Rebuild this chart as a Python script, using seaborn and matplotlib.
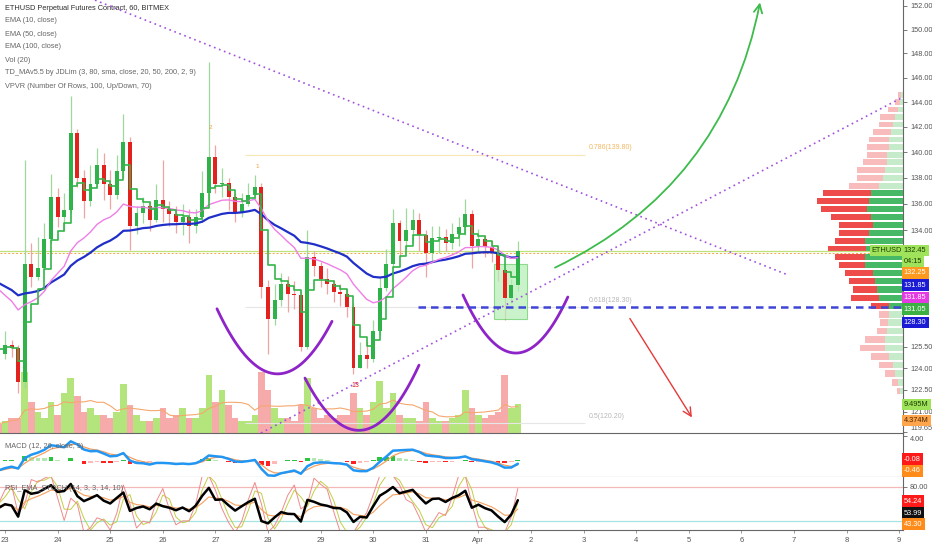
import numpy as np
import pandas as pd
import matplotlib
matplotlib.use("Agg")
import matplotlib.pyplot as plt
import matplotlib.dates as mdates
from matplotlib.patches import Rectangle
from matplotlib.ticker import FixedLocator, NullLocator, FuncFormatter
import seaborn as sns

sns.set_theme(style="white")
plt.rcParams["font.family"] = ["Liberation Sans", "DejaVu Sans"]

# --------------------------------------------------------------
# data (3h candles, ETHUSD BitMEX)
# --------------------------------------------------------------
first_open = 125.8
close = [125.0, 125.6, 125.4, 123.0, 131.5, 130.5, 131.2, 133.3, 136.5, 135.0,
         135.5, 141.5, 138.0, 136.2, 137.5, 139.0, 137.5, 136.7, 138.5, 140.8,
         134.3, 135.3, 135.8, 134.8, 136.3, 135.6, 135.2, 134.6, 135.0, 134.3,
         135.0, 136.8, 139.6, 137.5, 137.6, 136.5, 135.3, 136.0, 136.7, 137.3,
         129.8, 127.5, 128.8, 130.0, 129.3, 129.2, 125.5, 132.0, 131.3, 130.4,
         130.0, 129.4, 129.3, 128.3, 124.0, 124.9, 124.6, 126.6, 129.7, 131.5,
         134.5, 133.2, 134.0, 134.8, 133.6, 132.3, 133.4, 133.5, 133.0, 133.7,
         134.2, 135.2, 132.8, 133.3, 132.7, 132.3, 131.0, 129.0, 129.9, 132.45]
high = [126.3, 126.6, 126.0, 125.6, 139.4, 133.0, 133.5, 134.5, 138.3, 137.2,
        136.8, 144.5, 141.8, 138.6, 139.0, 140.3, 139.9, 138.6, 139.8, 143.0,
        141.2, 135.8, 136.5, 136.2, 137.5, 139.4, 136.2, 135.8, 136.0, 135.6,
        135.6, 138.5, 147.3, 140.6, 138.8, 138.0, 136.8, 136.8, 137.6, 138.2,
        137.6, 130.3, 130.0, 130.8, 130.6, 130.2, 129.5, 134.0, 132.4, 131.6,
        131.2, 130.3, 130.0, 129.6, 128.6, 125.8, 125.9, 127.4, 130.5, 132.6,
        135.6, 134.8, 135.7, 135.6, 135.3, 134.0, 134.3, 134.3, 134.1, 134.5,
        135.0, 136.4, 135.5, 134.1, 133.6, 133.2, 132.8, 131.2, 130.4, 133.2]
low = [124.2, 124.6, 124.8, 122.3, 122.6, 129.8, 130.3, 131.0, 133.0, 134.2,
       133.9, 135.3, 137.3, 134.9, 135.8, 137.2, 136.3, 135.6, 136.4, 138.0,
       132.5, 133.7, 134.5, 133.9, 134.6, 134.6, 134.3, 133.8, 133.6, 133.0,
       133.8, 134.6, 136.3, 136.8, 136.5, 135.5, 134.6, 135.0, 135.8, 136.3,
       129.0, 125.0, 127.0, 128.4, 128.0, 128.2, 125.2, 125.3, 130.6, 129.8,
       129.3, 128.7, 128.4, 127.6, 123.6, 124.0, 124.0, 124.4, 126.3, 129.5,
       131.2, 132.0, 132.6, 133.0, 132.4, 130.5, 131.7, 132.3, 132.4, 132.6,
       132.8, 133.6, 131.2, 132.3, 132.0, 131.6, 130.2, 127.4, 128.6, 129.5]
volume_m = [3, 4, 5, 5, 20, 10, 7, 5, 10, 6,
            13, 18, 12, 7, 8, 6, 6, 5, 7, 16,
            9, 6, 4, 4, 5, 8, 5, 6, 8, 5,
            5, 8, 19, 10, 14, 9, 5, 4, 4, 6,
            20, 14, 8, 5, 5, 4, 9, 18, 8, 5,
            6, 5, 6, 6, 13, 8, 6, 10, 17, 8,
            13, 6, 5, 5, 4, 10, 5, 4, 4, 5,
            6, 14, 8, 6, 5, 6, 7, 19, 8, 9.495]

# volume profile (visible range)
vp_price = [122.4, 123.0, 123.6, 124.2, 124.8, 125.4, 126.0, 126.6, 127.2, 127.8,
            128.4, 129.0, 129.6, 130.2, 130.8, 131.4, 132.0, 132.6, 133.2, 133.8,
            134.4, 135.0, 135.6, 136.2, 136.8, 137.4, 138.0, 138.6, 139.2, 139.8,
            140.4, 141.0, 141.6, 142.2, 142.8, 143.4, 144.0, 144.6]
vp_down = [3, 6, 10, 14, 18, 25, 20, 10, 8, 10,
           18, 28, 24, 26, 28, 26, 30, 38, 30, 30,
           34, 40, 46, 52, 48, 30, 26, 28, 24, 20,
           22, 20, 18, 14, 15, 10, 5, 3]
vp_up = [3, 5, 8, 10, 14, 18, 18, 16, 15, 14,
         14, 24, 26, 28, 30, 38, 38, 37, 38, 34,
         30, 32, 36, 34, 32, 24, 20, 18, 16, 16,
         14, 14, 12, 10, 8, 5, 3, 2]
value_area = (128.1, 137.1)

legend_lines = ["ETHUSD Perpetual Futures Contract, 60, BITMEX", "EMA (10, close)", "EMA (50, close)",
                "EMA (100, close)", "Vol (20)", "TD_MAv5.5 by JDLim (3, 80, sma, close, 20, 50, 200, 2, 9)",
                "VPVR (Number Of Rows, 100, Up/Down, 70)"]
price_ticks = [152, 150, 148, 146, 144, 142, 140, 138, 136, 134, 125.5, 124, 122.5, 121, 119.65]

# drawings on the chart (time, price)
desc_line = [("2019-03-24 17:04", 152.5), ("2019-04-06 21:15", 130.66)]
asc_line = [("2019-03-27 20:48", 119.55), ("2019-04-09 01:40", 144.4)]
cups = [[("2019-03-27 00:43", 128.2), ("2019-03-28 05:28", 123.6), ("2019-03-29 05:12", 127.3)],
        [("2019-03-28 16:52", 123.3), ("2019-03-29 19:20", 119.75), ("2019-03-30 20:54", 124.2)],
        [("2019-03-31 16:58", 129.2), ("2019-04-01 17:37", 125.05), ("2019-04-02 16:48", 129.05)]]
green_arrow = [("2019-04-02 10:57", 131.2), ("2019-04-06 08:30", 152.3)]
red_arrow = [("2019-04-03 21:07", 127.5), ("2019-04-05 01:26", 120.6)]
support = ("2019-03-30 20:24", 128.30)
zone = [("2019-04-01 07:08", 127.5), ("2019-04-01 22:10", 131.5)]
fib_span = ("2019-03-27 13:26", "2019-04-03 00:43")
fib_levels = [("0.786(139.80)", 139.80, "#f6e7b5", "#f4b860"),
              ("0.618(128.30)", 128.30, "#e6e6e6", "#b8b8b8"),
              ("0.5(120.20)", 120.20, "#e6e6e6", "#b8b8b8")]

times = pd.date_range("2019-03-22 21:00", periods=len(close), freq="3h")
df = pd.DataFrame({"close": close, "high": high, "low": low, "vol": volume_m}, index=times)
df["open"] = df["close"].shift(1).fillna(first_open)
up = (df["close"] >= df["open"]).values


def ema(values, span, seed):
    s = pd.Series([seed] + [float(v) for v in values])
    return s.ewm(span=span, adjust=False).mean().iloc[1:].to_numpy()


def d2n(s):
    return mdates.date2num(pd.Timestamp(s))


df["ema10"] = ema(df["close"], 4, 125.6)
df["ema50"] = ema(df["close"], 17, 130.2)
df["ema100"] = ema(df["close"], 33, 130.4)
df["vol_ma"] = df["vol"].rolling(7, min_periods=1).mean()

macd = ema(df["close"], 4, 125.4) - ema(df["close"], 9, 127.2)
signal = ema(macd, 3, -1.6)
hist = macd - signal

delta = df["close"] - df["open"]
g = ema(delta.clip(lower=0), 9, 0.6)
l = ema((-delta).clip(lower=0), 9, 0.6)
rsi = pd.Series(100 * g / (g + l), index=times)
rsi_ema = ema(rsi, 4, 50)
lo = rsi.rolling(5, min_periods=1).min()
hi = rsi.rolling(5, min_periods=1).max()
stoch = (100 * (rsi - lo) / (hi - lo)).fillna(50)
k_line = stoch.rolling(2, min_periods=1).mean()
d_line = k_line.rolling(2, min_periods=1).mean()

# --------------------------------------------------------------
# figure layout: price / macd / rsi panes
# --------------------------------------------------------------
W, H = 932, 550
fig = plt.figure(figsize=(W / 100, H / 100), dpi=100)
fig.patch.set_facecolor("white")


def pane(top, bottom):
    return [0, 1 - bottom / H, 903 / W, (bottom - top) / H]


ax = fig.add_axes(pane(0, 433))
ax_macd = fig.add_axes(pane(433, 477), sharex=ax)
ax_rsi = fig.add_axes(pane(477, 530), sharex=ax)

ax.set_yscale("log")
ax.set_ylim(119.55, 152.51)
ax.set_xlim(pd.Timestamp("2019-03-22 21:43"), pd.Timestamp("2019-04-09 01:44"))

vol_ax = ax.twinx()
vp_ax = ax.twiny()
for a, z in [(vol_ax, 1), (vp_ax, 2), (ax, 3)]:
    a.set_zorder(z)
    a.patch.set_visible(False)

# volume
vol_colors = np.where(up, "#b4e47c", "#f6aaaa")
vol_ax.bar(df.index, df["vol"], width=0.125, color=vol_colors, linewidth=0)
vol_ax.plot(df.index, df["vol_ma"], color="#f5a86e", lw=0.8)
vol_ax.set_ylim(0, 141)
vol_ax.set_yticks([])
vol_ax.tick_params(right=False, labelright=False)

# volume profile
vp_p = np.array(vp_price)
inside = (vp_p >= value_area[0]) & (vp_p <= value_area[1])
vp_ax.barh(vp_p, vp_up, left=0, height=0.46,
           color=np.where(inside, "#46b866", "#c6ebca"), linewidth=0)
vp_ax.barh(vp_p, vp_down, left=vp_up, height=0.46,
           color=np.where(inside, "#ee4b4b", "#f8bcbc"), linewidth=0)
vp_ax.set_xlim((np.array(vp_down) + np.array(vp_up)).max() / 0.095, 0)
vp_ax.set_xticks([])
vp_ax.tick_params(top=False, labeltop=False)

# candles
wick_c = np.where(up, "#9ed89e", "#f0a3a3")
body_c = np.where(up, "#2fb24a", "#e2231d")
ax.vlines(df.index, df["low"], df["high"], color=wick_c, lw=0.9, zorder=2)
body_lo = np.minimum(df["open"], df["close"])
body_h = np.maximum(np.abs(df["close"] - df["open"]), 0.1)
ax.bar(df.index, body_h, bottom=body_lo, width=0.075, color=body_c, linewidth=0, zorder=3)

# moving averages
sns.lineplot(x=df.index, y=df["ema100"], ax=ax, color="#1f2fc8", lw=1.6, zorder=4)
sns.lineplot(x=df.index, y=df["ema50"], ax=ax, color="#ef7ee6", lw=1.0, zorder=4)
sns.lineplot(x=df.index, y=df["ema10"], ax=ax, color="#35b54a", lw=1.2, drawstyle="steps-post", zorder=5)

# price lines
ax.axhline(132.45, color="#bfe27a", lw=0.9, zorder=1)
ax.axhline(132.25, color="#f3a645", lw=0.7, ls=(0, (2, 2)), zorder=1)

# fibonacci levels
for txt, lvl, lc, tc in fib_levels:
    ax.hlines(lvl, d2n(fib_span[0]), d2n(fib_span[1]), color=lc, lw=0.8, zorder=1)
    ax.text(d2n(fib_span[1]) + 0.06, lvl * 1.002, txt, color=tc, fontsize=5, va="bottom", zorder=1)

# trend lines
for line in (desc_line, asc_line):
    ax.plot([d2n(p[0]) for p in line], [p[1] for p in line], color="#a150e0",
            lw=1.2, ls=(0, (1, 2.2)), zorder=6)

# cups
for pts in cups:
    xs = np.array([d2n(p[0]) for p in pts])
    ys = np.log([p[1] for p in pts])
    coef = np.polyfit(xs, ys, 2)
    xx = np.linspace(xs[0], xs[-1], 80)
    ax.plot(xx, np.exp(np.polyval(coef, xx)), color="#8e24c8", lw=2.0, zorder=6, solid_capstyle="round")

# support line and zone
ax.hlines(support[1], d2n(support[0]), d2n("2019-04-10"), color="#3f45d6", lw=1.8,
          linestyles=(0, (3, 2)), zorder=6)
ax.add_patch(Rectangle((d2n(zone[0][0]), zone[0][1]), d2n(zone[1][0]) - d2n(zone[0][0]),
                       zone[1][1] - zone[0][1], facecolor="#b6efb6", edgecolor="#66cc66",
                       alpha=0.7, lw=0.8, zorder=2))

# arrows
ax.annotate("", xy=(d2n(green_arrow[1][0]), green_arrow[1][1]),
            xytext=(d2n(green_arrow[0][0]), green_arrow[0][1]),
            arrowprops=dict(arrowstyle="->,head_length=0.5,head_width=0.25", color="#3dbb4b", lw=1.3,
                            connectionstyle="arc3,rad=0.25", shrinkA=0, shrinkB=0),
            annotation_clip=False, zorder=7)
ax.annotate("", xy=(d2n(red_arrow[1][0]), red_arrow[1][1]),
            xytext=(d2n(red_arrow[0][0]), red_arrow[0][1]),
            arrowprops=dict(arrowstyle="->,head_length=0.5,head_width=0.25", color="#e53a3a", lw=1.0,
                            shrinkA=0, shrinkB=0), zorder=7)

# TD counts
ax.text(d2n("2019-03-29 15:40"), 123.0, "13", color="#e02020", fontsize=5, ha="center", va="top", zorder=7)
ax.text(d2n("2019-03-27 19:00"), 138.8, "1", color="#f0a040", fontsize=4.5, ha="center", zorder=7)
ax.text(d2n("2019-03-26 21:30"), 141.8, "2", color="#f0a040", fontsize=4.5, ha="center", zorder=7)

# legend lines top-left
for k, t in enumerate(legend_lines):
    ax.text(0.005, 1 - (8 + 13 * k) / 433, t, transform=ax.transAxes, fontsize=5.3, va="center",
            color="#2e2e2e" if k == 0 else "#666666")

# --------------------------------------------------------------
# MACD pane
# --------------------------------------------------------------
hist_prev = np.concatenate([[hist[0]], hist[:-1]])
hcol = np.where(hist >= 0, np.where(hist >= hist_prev, "#2bc43f", "#b3e8b3"),
                np.where(hist < hist_prev, "#ff2020", "#ffb8b8"))
ax_macd.bar(df.index, hist, width=0.09, color=hcol, linewidth=0)
ax_macd.plot(df.index, signal, color="#f5a060", lw=0.9)
ax_macd.plot(df.index, macd, color="#2196f3", lw=1.8)
ax_macd.set_ylim(-2.56, 4.48)
ax_macd.set_yticks([4.0])
ax_macd.text(0.005, 1 - 14 / 44, "MACD (12, 26, close, 9)", transform=ax_macd.transAxes,
             fontsize=5.3, color="#666666", va="center")

# --------------------------------------------------------------
# RSI pane
# --------------------------------------------------------------
ax_rsi.axhline(80, color="#f5b8b8", lw=0.9)
ax_rsi.axhline(20, color="#a6e3e3", lw=0.9)
ax_rsi.plot(df.index, d_line, color="#c2cf45", lw=0.7)
ax_rsi.plot(df.index, k_line, color="#f08a8a", lw=0.7)
ax_rsi.plot(df.index, rsi_ema, color="#f5a060", lw=0.8)
ax_rsi.plot(df.index, rsi, color="#000000", lw=1.8)
ax_rsi.set_ylim(4.2, 97.6)
ax_rsi.set_yticks([80])
ax_rsi.text(0.005, 1 - 11 / 53, "RSI_EMA_STOCH (14, 3, 3, 14, 10)", transform=ax_rsi.transAxes,
            fontsize=5.3, color="#666666", va="center")

# --------------------------------------------------------------
# axes styling
# --------------------------------------------------------------
fmt = FuncFormatter(lambda v, p: f"{v:.2f}")
ax.yaxis.set_major_locator(FixedLocator(price_ticks))
ax.yaxis.set_minor_locator(NullLocator())
for a in (ax, ax_macd, ax_rsi):
    a.yaxis.tick_right()
    a.yaxis.set_major_formatter(fmt)
    a.tick_params(axis="y", right=True, length=3, width=0.6, color="#666666",
                  labelsize=5.3, labelcolor="#555555", pad=2)
    for side in ("left", "top"):
        a.spines[side].set_visible(False)
    for side in ("right", "bottom"):
        a.spines[side].set_color("#666666")
        a.spines[side].set_linewidth(0.8)
    a.set_xlabel("")
    a.set_ylabel("")
    a.grid(False)
for a in (vol_ax, vp_ax):
    for s in a.spines.values():
        s.set_visible(False)
ax.tick_params(axis="x", bottom=False, labelbottom=False)
ax_macd.tick_params(axis="x", bottom=False, labelbottom=False)

# keep the bottom price tick and the MACD top tick apart
ax.yaxis.get_major_ticks()[-1].label2.set_va("bottom")
ax_macd.yaxis.get_major_ticks()[0].label2.set_va("top")

day_ticks = pd.date_range("2019-03-23", "2019-04-09", freq="D")
ax_rsi.set_xticks(day_ticks)
ax_rsi.set_xticklabels(["Apr" if d.day == 1 else str(d.day) for d in day_ticks])
ax_rsi.tick_params(axis="x", bottom=True, length=2, width=0.6, color="#888888",
                   labelsize=5.5, labelcolor="#555555", pad=3)


# right-side value tags
def tag(axis, y, text, bg, fg="white", x=1.001, ha="left"):
    axis.text(x, y, text, transform=axis.get_yaxis_transform(), fontsize=5.3, color=fg, ha=ha,
              va="center", clip_on=False, zorder=20,
              bbox=dict(boxstyle="square,pad=0.3", fc=bg, ec="none"))


lime, dark = "#9fe35a", "#1d3d05"
tag(ax, 132.45, "ETHUSD", lime, dark, x=0.999, ha="right")
main_tags = [("132.45", 132.45, lime, dark), ("04:15", 131.62, lime, dark),
             ("132.25", 130.82, "#ff9a1f", "white"), ("131.85", 129.92, "#1b1bd6", "white"),
             ("131.85", 129.02, "#e33ce3", "white"), ("131.05", 128.17, "#3cb043", "white"),
             ("128.30", 127.22, "#1b1bd6", "white"), ("9.495M", 121.5, lime, dark),
             ("4.374M", 120.4, "#ffa64d", "#4a2500")]
for txt, y, bg, fg in main_tags:
    tag(ax, y, txt, bg, fg)
tag(ax_macd, 0.3, "-0.08", "#ff1a1a")
tag(ax_macd, -1.6, "-0.46", "#ff8c1a")
tag(ax_rsi, 55.0, "54.24", "#ff1a1a")
tag(ax_rsi, 34.0, "53.99", "#111111")
tag(ax_rsi, 14.5, "43.30", "#ff8c1a")

fig.savefig("out.png", dpi=100, facecolor="white")
